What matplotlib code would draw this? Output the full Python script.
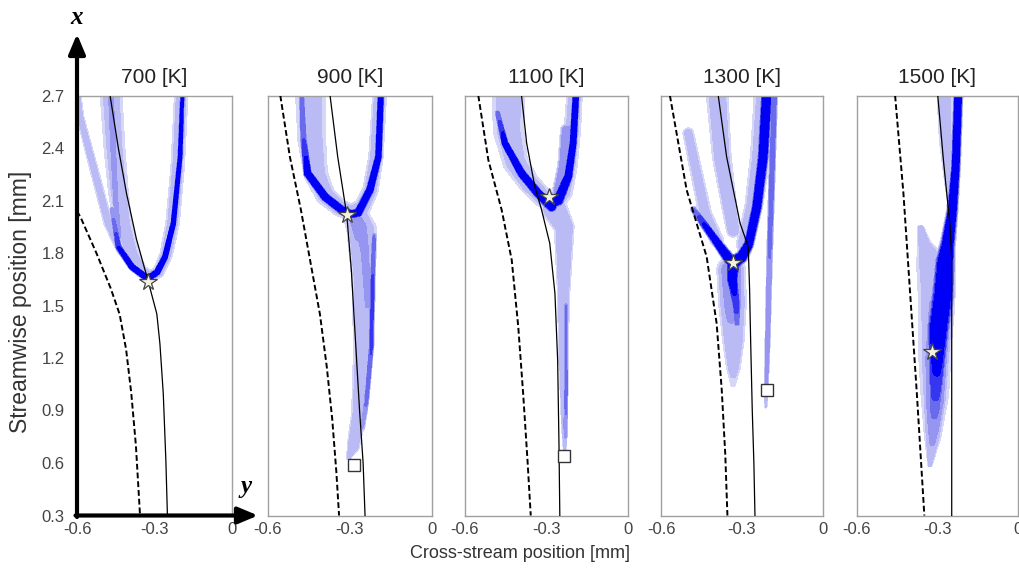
import numpy as np
import matplotlib.pyplot as plt

# temperatures, one panel each
temps = [700, 900, 1100, 1300, 1500]

# dashed boundary line per panel (y = cross-stream, x = streamwise) [mm]
dash_y = [
    [-0.6, -0.585, -0.525, -0.47, -0.435, -0.41, -0.39, -0.372, -0.356],
    [-0.555, -0.52, -0.48, -0.445, -0.41, -0.385, -0.365, -0.35, -0.34],
    [-0.551, -0.514, -0.465, -0.428, -0.404, -0.386, -0.37, -0.358],
    [-0.567, -0.505, -0.431, -0.394, -0.375, -0.362, -0.354],
    [-0.458, -0.427, -0.402, -0.377, -0.349],
]
dash_x = [
    [2.04, 2.0, 1.8, 1.6, 1.45, 1.25, 1.0, 0.7, 0.3],
    [2.7, 2.35, 2.05, 1.75, 1.45, 1.15, 0.85, 0.55, 0.3],
    [2.7, 2.331, 2.046, 1.76, 1.379, 0.998, 0.617, 0.3],
    [2.7, 2.16, 1.779, 1.398, 1.017, 0.65, 0.3],
    [2.7, 2.141, 1.57, 0.998, 0.3],
]

# solid line per panel
solid_y = [
    [-0.472, -0.44, -0.408, -0.37, -0.324, -0.291, -0.279, -0.266, -0.256, -0.25],
    [-0.373, -0.345, -0.312, -0.295, -0.28, -0.265, -0.252, -0.245],
    [-0.392, -0.373, -0.343, -0.318, -0.288, -0.269, -0.259, -0.254, -0.251],
    [-0.388, -0.357, -0.307, -0.277, -0.272, -0.268, -0.262, -0.256, -0.252],
    [-0.299, -0.278, -0.253, -0.247, -0.247],
]
solid_x = [
    [2.7, 2.4, 2.138, 1.88, 1.636, 1.452, 1.281, 0.995, 0.614, 0.3],
    [2.7, 2.35, 2.02, 1.7, 1.3, 0.9, 0.6, 0.3],
    [2.7, 2.427, 2.179, 2.046, 1.855, 1.57, 1.189, 0.7, 0.3],
    [2.7, 2.35, 1.97, 1.836, 1.6, 1.3, 0.9, 0.6, 0.3],
    [2.7, 2.331, 1.95, 1.76, 0.3],
]

# star and square markers
star_y = [-0.324, -0.312, -0.290, -0.333, -0.320]
star_x = [1.636, 2.017, 2.122, 1.743, 1.234]
square_y = [None, -0.285, -0.235, -0.207, None]
square_x = [None, 0.589, 0.640, 1.017, None]

# flame bands: centreline (y, x), half width w [mm], peak level p
flame_700 = [
    dict(y=[-0.47, -0.455, -0.44, -0.42, -0.39, -0.355, -0.32, -0.285, -0.255, -0.23, -0.21, -0.195],
         x=[2.75, 2.4, 2.15, 1.95, 1.80, 1.70, 1.665, 1.69, 1.79, 1.97, 2.3, 2.75],
         w=[0.042, 0.04, 0.038, 0.034, 0.028, 0.024, 0.022, 0.022, 0.024, 0.026, 0.026, 0.026], p=0.29),
    dict(y=[-0.191, -0.201, -0.227, -0.259, -0.29, -0.318], x=[2.75, 2.35, 1.97, 1.779, 1.69, 1.662],
         w=[0.008, 0.009, 0.01, 0.011, 0.012, 0.012], p=[0.85, 0.95, 1, 1, 1, 1]),
    dict(y=[-0.465, -0.44, -0.388, -0.337, -0.318], x=[2.05, 1.836, 1.722, 1.665, 1.662],
         w=[0.008, 0.011, 0.012, 0.012, 0.012], p=[0.45, 0.85, 1, 1, 1]),
    dict(y=[-0.47, -0.46, -0.45, -0.44], x=[2.75, 2.4, 2.1, 1.9], w=0.012, p=[0.5, 0.5, 0.45, 0.5]),
    dict(y=[-0.6, -0.588, -0.53, -0.479, -0.43], x=[2.75, 2.58, 2.255, 1.97, 1.81],
         w=[0.012, 0.014, 0.016, 0.017, 0.015], p=0.28),
]
flame_900 = [
    dict(y=[-0.445, -0.44, -0.425, -0.39, -0.34, -0.295, -0.255, -0.225, -0.205, -0.19],
         x=[2.75, 2.45, 2.25, 2.13, 2.06, 2.03, 2.06, 2.16, 2.35, 2.75],
         w=[0.055, 0.05, 0.042, 0.035, 0.03, 0.03, 0.03, 0.028, 0.026, 0.025], p=0.3),
    dict(y=[-0.186, -0.196, -0.227, -0.27, -0.302], x=[2.75, 2.35, 2.16, 2.03, 2.02],
         w=[0.011, 0.012, 0.014, 0.015, 0.015], p=1),
    dict(y=[-0.478, -0.47, -0.455, -0.391, -0.33, -0.302], x=[2.75, 2.45, 2.255, 2.12, 2.046, 2.025],
         w=[0.009, 0.011, 0.014, 0.015, 0.015, 0.015], p=[0.55, 0.7, 1, 1, 1, 1]),
    dict(y=[-0.275, -0.257, -0.25, -0.25, -0.266, -0.288, -0.305], x=[2.0, 1.93, 1.645, 1.265, 0.884, 0.696, 0.63],
         w=[0.045, 0.052, 0.042, 0.036, 0.027, 0.022, 0.008], p=[0.38, 0.36, 0.33, 0.33, 0.36, 0.34, 0.28]),
    dict(y=[-0.26, -0.245, -0.235], x=[1.95, 1.8, 1.5], w=[0.025, 0.018, 0.012], p=0.48),
    dict(y=[-0.212, -0.217, -0.222, -0.24, -0.255], x=[1.9, 1.65, 1.265, 0.95, 0.8], w=0.008,
         p=[0.55, 0.72, 0.72, 0.58, 0.4]),
    dict(y=[-0.275, -0.26], x=[1.98, 1.9], w=0.03, p=0.48),
]
flame_1100 = [
    dict(y=[-0.44, -0.44, -0.415, -0.365, -0.315, -0.27, -0.24, -0.22, -0.205, -0.195],
         x=[2.75, 2.5, 2.32, 2.2, 2.12, 2.09, 2.15, 2.3, 2.5, 2.75],
         w=[0.06, 0.055, 0.045, 0.038, 0.036, 0.036, 0.035, 0.033, 0.03, 0.028], p=0.3),
    dict(y=[-0.19, -0.202, -0.22, -0.257, -0.29], x=[2.75, 2.427, 2.236, 2.103, 2.085],
         w=[0.012, 0.013, 0.015, 0.02, 0.022], p=1),
    dict(y=[-0.48, -0.453, -0.392, -0.331, -0.281], x=[2.6, 2.427, 2.255, 2.141, 2.065],
         w=[0.009, 0.012, 0.015, 0.016, 0.018], p=[0.6, 1, 1, 1, 1]),
    dict(y=[-0.27, -0.235, -0.237, -0.238, -0.233, -0.233], x=[2.05, 1.95, 1.57, 1.189, 0.807, 0.67],
         w=[0.045, 0.035, 0.022, 0.016, 0.011, 0.005], p=[0.4, 0.38, 0.36, 0.38, 0.4, 0.28]),
    dict(y=[-0.228, -0.228, -0.23], x=[1.5, 1.0, 0.75], w=0.006, p=[0.55, 0.6, 0.5]),
    dict(y=[-0.225, -0.235, -0.255], x=[2.5, 2.3, 2.15], w=0.022, p=0.48),
]
flame_1300 = [
    dict(y=[-0.212, -0.232, -0.257, -0.29], x=[2.75, 2.35, 2.065, 1.85], w=[0.04, 0.036, 0.032, 0.03], p=0.32),
    dict(y=[-0.207, -0.222, -0.245, -0.275], x=[2.75, 2.35, 2.065, 1.85], w=[0.02, 0.019, 0.018, 0.017], p=1),
    dict(y=[-0.275, -0.30, -0.332, -0.336, -0.322, -0.318], x=[1.85, 1.78, 1.741, 1.65, 1.513, 1.40],
         w=[0.017, 0.021, 0.024, 0.02, 0.014, 0.01], p=[1, 1, 1, 0.95, 0.8, 0.6]),
    dict(y=[-0.48, -0.443, -0.381, -0.345], x=[2.05, 1.97, 1.836, 1.76], w=[0.01, 0.013, 0.016, 0.02],
         p=[0.55, 0.85, 1, 1]),
    dict(y=[-0.34, -0.335, -0.332, -0.332, -0.333], x=[1.7, 1.5, 1.3, 1.15, 1.05],
         w=[0.05, 0.048, 0.038, 0.026, 0.01], p=[0.45, 0.42, 0.38, 0.3, 0.22]),
    dict(y=[-0.499, -0.468, -0.437, -0.394], x=[2.484, 2.255, 2.027, 1.874], w=[0.02, 0.022, 0.024, 0.025], p=0.28),
    dict(y=[-0.394, -0.375, -0.351, -0.332], x=[2.75, 2.35, 2.103, 1.93], w=[0.04, 0.034, 0.028, 0.025], p=0.32),
    dict(y=[-0.18, -0.19, -0.198, -0.205, -0.21, -0.212], x=[2.75, 2.2, 1.77, 1.3, 1.017, 0.92],
         w=[0.012, 0.011, 0.01, 0.009, 0.007, 0.004], p=[0.6, 0.6, 0.55, 0.5, 0.4, 0.3]),
]
flame_1500 = [
    dict(y=[-0.275, -0.268, -0.258, -0.25], x=[2.75, 2.45, 2.2, 2.05], w=[0.028, 0.025, 0.015, 0.008], p=0.3),
    dict(y=[-0.362, -0.35, -0.325, -0.31, -0.31, -0.31, -0.318, -0.328], x=[1.94, 1.85, 1.75, 1.56, 1.2, 0.99, 0.75, 0.59],
         w=[0.012, 0.025, 0.052, 0.06, 0.058, 0.05, 0.03, 0.008], p=0.33),
    dict(y=[-0.29, -0.305, -0.31, -0.315, -0.32], x=[1.5, 1.2, 0.95, 0.8, 0.7], w=[0.05, 0.048, 0.04, 0.028, 0.016],
         p=[0.52, 0.52, 0.5, 0.45, 0.4]),
    dict(y=[-0.222, -0.232, -0.245, -0.262, -0.272, -0.28, -0.297, -0.304, -0.31, -0.315],
         x=[2.75, 2.3, 2.04, 1.85, 1.75, 1.56, 1.37, 1.1, 0.91, 0.8],
         w=[0.016, 0.016, 0.019, 0.026, 0.035, 0.04, 0.04, 0.028, 0.022, 0.012],
         p=[1, 1, 1, 1, 1, 1, 1, 0.85, 0.65, 0.45]),
]
flames = [flame_700, flame_900, flame_1100, flame_1300, flame_1500]

W, H = 1020, 568
panel_px = [(77, 232), (268, 432), (465, 628), (661, 823), (857, 1018)]
top_px, bot_px = 95.5, 515.5

levels = [0.1, 0.25, 0.4, 0.55, 0.7, 0.85, 2.0]
shades = ['#d6d6f7', '#babaf4', '#9696f0', '#6a6aec', '#3636f0', '#0000f6']


def band_field(Y, X, band, sx, sy):
    n = len(band['y'])
    py = np.asarray(band['y'], float) * sx
    px = np.asarray(band['x'], float) * sy
    w = np.broadcast_to(np.asarray(band['w'], float), (n,)) * sx
    p = np.broadcast_to(np.asarray(band['p'], float), (n,))
    gy, gx = Y * sx, X * sy
    out = np.zeros_like(Y)
    for i in range(n - 1):
        dy, dx = py[i + 1] - py[i], px[i + 1] - px[i]
        t = np.clip(((gy - py[i]) * dy + (gx - px[i]) * dx) / (dy * dy + dx * dx), 0, 1)
        d = np.hypot(gy - py[i] - t * dy, gx - px[i] - t * dx)
        wi = w[i] + t * (w[i + 1] - w[i])
        pi = p[i] + t * (p[i + 1] - p[i])
        out = np.maximum(out, pi * np.exp(-(d / wi) ** 6))
    return out


plt.rcParams['font.family'] = ['Liberation Sans', 'DejaVu Sans']
fig = plt.figure(figsize=(W / 100, H / 100), dpi=100)

gy = np.linspace(-0.6, 0, 301)
gx = np.linspace(0.3, 2.7, 721)
GY, GX = np.meshgrid(gy, gx)

for k, T in enumerate(temps):
    x0, x1 = panel_px[k]
    ax = fig.add_axes([x0 / W, 1 - bot_px / H, (x1 - x0) / W, (bot_px - top_px) / H])
    sx = (x1 - x0) / 0.6
    sy = (bot_px - top_px) / 2.4

    F = np.zeros_like(GY)
    for band in flames[k]:
        F = np.maximum(F, band_field(GY, GX, band, sx, sy))
    ax.contourf(gy, gx, F, levels=levels, colors=shades, zorder=1)

    ax.plot(dash_y[k], dash_x[k], color='black', lw=1.4, ls=(0, (3.0, 1.5)), zorder=3)
    ax.plot(solid_y[k], solid_x[k], color='black', lw=0.9, zorder=3)
    ax.plot(star_y[k], star_x[k], marker='*', ms=13, mfc='#f3f1e0', mec='#444444', mew=0.9, zorder=5)
    if square_y[k] is not None:
        ax.plot(square_y[k], square_x[k], marker='s', ms=9, mfc='white', mec='#333333', mew=1.0, zorder=5)

    ax.set_xlim(-0.6, 0)
    ax.set_ylim(0.3, 2.7)
    ax.set_xticks([-0.6, -0.3, 0])
    ax.set_xticklabels(['-0.6', '-0.3', '0'])
    ax.set_yticks(np.arange(0.3, 2.71, 0.3))
    ax.set_yticklabels([f'{v:.1f}' for v in np.arange(0.3, 2.71, 0.3)])
    ax.tick_params(length=0, labelsize=12, labelcolor='#444444', pad=5)
    if k > 0:
        ax.tick_params(labelleft=False)
    else:
        ax.tick_params(axis='y', pad=9)
    for s in ax.spines.values():
        s.set_color('#a0a0a0')
        s.set_linewidth(1.0)
    if k == 0:
        ax.spines['left'].set_visible(False)
        ax.spines['bottom'].set_visible(False)
    ax.set_title(f'{T} [K]', fontsize=15, color='#222222', pad=9)

# coordinate arrows on the first panel
arrow = dict(arrowstyle='-|>,head_length=1.0,head_width=0.42', lw=3.0, color='black',
             shrinkA=0, shrinkB=0, mutation_scale=12)
fig.axes[0].annotate('', xy=(77, H - 34), xytext=(77, H - 517), xycoords='figure pixels',
                     textcoords='figure pixels', arrowprops=arrow, annotation_clip=False)
fig.axes[0].annotate('', xy=(258, H - 515.5), xytext=(75.5, H - 515.5), xycoords='figure pixels',
                     textcoords='figure pixels', arrowprops=arrow, annotation_clip=False)
fig.text(77 / W, 1 - 17 / H, 'x', ha='center', va='center', fontsize=18, style='italic',
         weight='bold', family='Liberation Serif')
fig.text(246 / W, 1 - 487 / H, 'y', ha='center', va='center', fontsize=18, style='italic',
         weight='bold', family='Liberation Serif')

fig.text(520 / W, 1 - 553 / H, 'Cross-stream position [mm]', ha='center', va='center',
         fontsize=13, color='#333333')
fig.text(21 / W, 1 - 302 / H, 'Streamwise position [mm]', ha='center', va='center',
         rotation=90, fontsize=16.5, color='#333333')

fig.savefig('out.png', dpi=100)
